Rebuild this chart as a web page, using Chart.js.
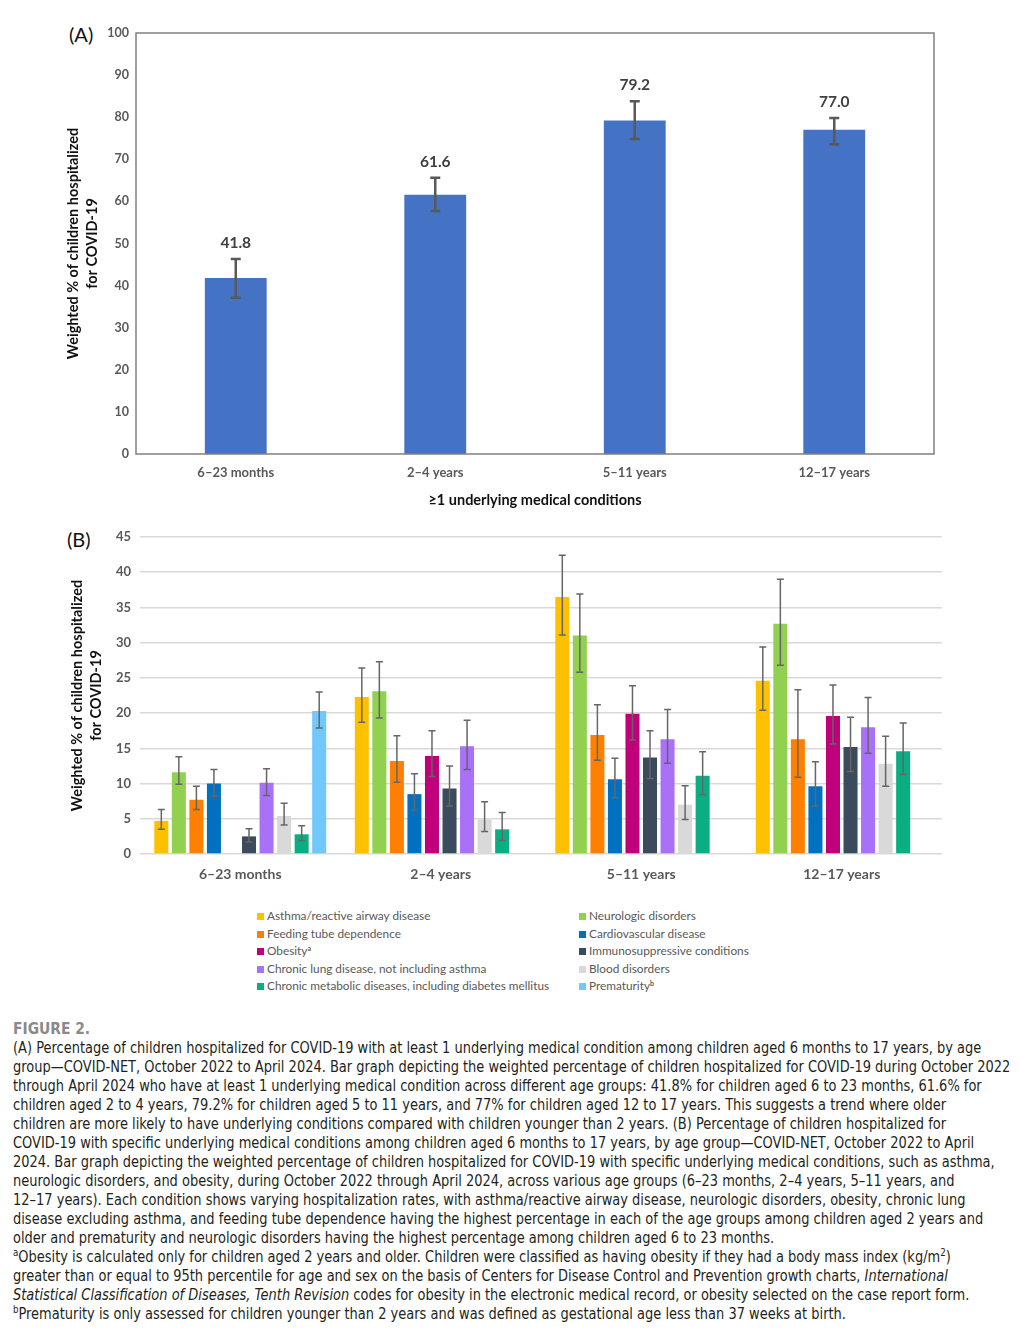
<!DOCTYPE html>
<html>
<head>
<meta charset="utf-8">
<script src="https://cdn.jsdelivr.net/npm/chart.js@4.4.1/dist/chart.umd.min.js"></script>
<style>
  body { margin: 0; background: #fff; width: 1021px; height: 1333px; position: relative; overflow: hidden; }
  .abs { position: absolute; }
  .panel-tag { font-family: Lato, sans-serif; font-size: 20px; color: #111; }
  #legend { left: 0; top: 909px; font-family: Lato, sans-serif; font-size: 11.8px; color: #595959; }
  .leg { position: absolute; white-space: nowrap; line-height: 14px; }
  .leg i { display: inline-block; width: 7px; height: 7px; margin-right: 3px; vertical-align: 0px; }
  .leg sup { font-size: 7px; font-weight: bold; line-height: 0; vertical-align: 4px; }
  #caption { left: 13px; top: 1019px; font-family: "Liberation Sans Narrow", "DejaVu Sans Condensed", sans-serif; font-stretch: condensed; color: #231f20; font-size: 15px; line-height: 19px; white-space: nowrap; transform: scaleX(0.963); transform-origin: 0 0; }
  #caption .fig { font-weight: bold; color: #8a8a8a; font-size: 16px; }
  #caption sup { font-size: 10px; line-height: 0; }
</style>
</head>
<body>
<div class="abs panel-tag" style="left:69px;top:22px;">(A)</div>
<div class="abs panel-tag" style="left:67px;top:527px;">(B)</div>
<canvas id="chartA" class="abs" style="left:0;top:0" width="1021" height="520"></canvas>
<canvas id="chartB" class="abs" style="left:0;top:520px" width="1021" height="380"></canvas>
<div id="legend" class="abs"></div>
<div id="caption" class="abs">
<span class="fig">FIGURE 2.</span><br>
(A) Percentage of children hospitalized for COVID-19 with at least 1 underlying medical condition among children aged 6 months to 17 years, by age<br>
group—COVID-NET, October 2022 to April 2024. Bar graph depicting the weighted percentage of children hospitalized for COVID-19 during October 2022<br>
through April 2024 who have at least 1 underlying medical condition across different age groups: 41.8% for children aged 6 to 23 months, 61.6% for<br>
children aged 2 to 4 years, 79.2% for children aged 5 to 11 years, and 77% for children aged 12 to 17 years. This suggests a trend where older<br>
children are more likely to have underlying conditions compared with children younger than 2 years. (B) Percentage of children hospitalized for<br>
COVID-19 with specific underlying medical conditions among children aged 6 months to 17 years, by age group—COVID-NET, October 2022 to April<br>
2024. Bar graph depicting the weighted percentage of children hospitalized for COVID-19 with specific underlying medical conditions, such as asthma,<br>
neurologic disorders, and obesity, during October 2022 through April 2024, across various age groups (6–23 months, 2–4 years, 5–11 years, and<br>
12–17 years). Each condition shows varying hospitalization rates, with asthma/reactive airway disease, neurologic disorders, obesity, chronic lung<br>
disease excluding asthma, and feeding tube dependence having the highest percentage in each of the age groups among children aged 2 years and<br>
older and prematurity and neurologic disorders having the highest percentage among children aged 6 to 23 months.<br>
<sup>a</sup>Obesity is calculated only for children aged 2 years and older. Children were classified as having obesity if they had a body mass index (kg/m<sup>2</sup>)<br>
greater than or equal to 95th percentile for age and sex on the basis of Centers for Disease Control and Prevention growth charts, <i>International</i><br>
<i>Statistical Classification of Diseases, Tenth Revision</i> codes for obesity in the electronic medical record, or obesity selected on the case report form.<br>
<sup>b</sup>Prematurity is only assessed for children younger than 2 years and was defined as gestational age less than 37 weeks at birth.
</div>
<script>
// age groups (both panels)
const ageGroups = ['6–23 months', '2–4 years', '5–11 years', '12–17 years'];

// panel A: >=1 underlying condition
const anyCondition = [41.8, 61.6, 79.2, 77.0];
const anyConditionCI = [[37.1, 46.3], [57.7, 65.6], [74.8, 83.8], [73.6, 79.8]];

// panel B: specific conditions, one array per condition
const conditionNames = [
  'Asthma/reactive airway disease', 'Neurologic disorders', 'Feeding tube dependence',
  'Cardiovascular disease', 'Obesity', 'Immunosuppressive conditions',
  'Chronic lung disease, not including asthma', 'Blood disorders',
  'Chronic metabolic diseases, including diabetes mellitus', 'Prematurity'
];
const conditionSup = ['', '', '', '', 'a', '', '', '', '', 'b'];
const conditionColors = ['#FFC000', '#92D050', '#FF8000', '#0070C0', '#C0007A',
  '#3B4A5C', '#A970F8', '#D9D9D9', '#0BAE83', '#70C8FC'];

const asthma = [4.7, 22.3, 36.5, 24.6];
const asthmaCI = [[3.5, 6.3], [18.7, 26.4], [31.1, 42.4], [20.4, 29.4]];
const neuro = [11.6, 23.1, 31.0, 32.7];
const neuroCI = [[9.9, 13.8], [19.3, 27.3], [25.8, 36.9], [26.8, 39.0]];
const feedingTube = [7.7, 13.2, 16.9, 16.3];
const feedingTubeCI = [[6.3, 9.6], [10.2, 16.8], [13.3, 21.2], [10.9, 23.3]];
const cardio = [10.0, 8.5, 10.6, 9.6];
const cardioCI = [[8.2, 12.0], [6.2, 11.4], [8.0, 13.6], [6.8, 13.1]];
const obesity = [null, 13.9, 19.9, 19.6];
const obesityCI = [null, [11.0, 17.5], [16.2, 23.9], [15.6, 24.0]];
const immuno = [2.5, 9.3, 13.7, 15.2];
const immunoCI = [[1.7, 3.6], [6.8, 12.5], [10.7, 17.5], [11.7, 19.4]];
const chronicLung = [10.1, 15.3, 16.3, 18.0];
const chronicLungCI = [[8.3, 12.1], [12.0, 19.0], [12.9, 20.5], [14.3, 22.2]];
const blood = [5.4, 4.9, 7.0, 12.8];
const bloodCI = [[4.1, 7.2], [3.2, 7.4], [4.9, 9.7], [9.6, 16.7]];
const metabolic = [2.8, 3.5, 11.1, 14.6];
const metabolicCI = [[1.9, 4.0], [1.9, 5.9], [8.4, 14.5], [11.3, 18.6]];
const prematurity = [20.3, 0, null, 0];
const prematurityCI = [[17.9, 23.0], null, null, null];

const seriesB = [asthma, neuro, feedingTube, cardio, obesity, immuno, chronicLung, blood, metabolic, prematurity];
const seriesBCI = [asthmaCI, neuroCI, feedingTubeCI, cardioCI, obesityCI, immunoCI, chronicLungCI, bloodCI, metabolicCI, prematurityCI];

const yTicksA = { min: 0, max: 100, step: 10 };
const yTicksB = { min: 0, max: 45, step: 5 };

const errorBars = {
  id: 'errorBars',
  afterDatasetsDraw(chart, args, opts) {
    const ctx = chart.ctx, y = chart.scales.y;
    ctx.save();
    ctx.strokeStyle = opts.color;
    ctx.lineWidth = opts.width;
    chart.data.datasets.forEach((ds, i) => {
      if (!ds.ci) return;
      chart.getDatasetMeta(i).data.forEach((bar, j) => {
        const ci = ds.ci[j];
        if (!ci) return;
        const lo = y.getPixelForValue(ci[0]), hi = y.getPixelForValue(ci[1]);
        ctx.beginPath();
        ctx.moveTo(bar.x, lo); ctx.lineTo(bar.x, hi);
        ctx.moveTo(bar.x - opts.cap, lo); ctx.lineTo(bar.x + opts.cap, lo);
        ctx.moveTo(bar.x - opts.cap, hi); ctx.lineTo(bar.x + opts.cap, hi);
        ctx.stroke();
        if (opts.labels) {
          ctx.fillStyle = '#404040';
          ctx.font = 'bold 15.5px Lato';
          ctx.textAlign = 'center';
          ctx.textBaseline = 'middle';
          ctx.fillText(ds.data[j].toFixed(1), bar.x, hi - 16);
        }
      });
    });
    ctx.restore();
  }
};

const frame = {
  id: 'frame',
  afterDraw(chart, args, opts) {
    if (!opts.show) return;
    const a = chart.chartArea, ctx = chart.ctx;
    ctx.save();
    ctx.strokeStyle = '#808080';
    ctx.lineWidth = 1.5;
    ctx.strokeRect(a.left, a.top, a.right - a.left, a.bottom - a.top);
    ctx.restore();
  }
};

const yTitle = ['Weighted % of children hospitalized', 'for COVID-19'];

new Chart(document.getElementById('chartA'), {
  type: 'bar',
  data: {
    labels: ageGroups,
    datasets: [{
      data: anyCondition,
      ci: anyConditionCI,
      backgroundColor: '#4472C4',
      barPercentage: 0.31,
      categoryPercentage: 1
    }]
  },
  plugins: [errorBars, frame],
  options: {
    responsive: false,
    animation: false,
    layout: { padding: { top: 33, right: 87, left: 0, bottom: 0 } },
    plugins: {
      legend: { display: false },
      tooltip: { enabled: false },
      errorBars: { color: '#595959', width: 2.5, cap: 5, labels: true },
      frame: { show: true }
    },
    scales: {
      x: {
        grid: { display: false, drawTicks: false },
        border: { display: false },
        ticks: { color: '#595959', font: { family: 'Lato', weight: 'bold', size: 13 }, padding: 11 },
        title: { display: true, text: '≥1 underlying medical conditions', color: '#111',
          font: { family: 'Lato', weight: 'bold', size: 14.5 }, padding: { top: 0, bottom: 11 } },
        afterFit(s) { s.height = 66; }
      },
      y: {
        min: yTicksA.min, max: yTicksA.max,
        grid: { display: false, drawTicks: false },
        border: { display: false },
        ticks: { stepSize: yTicksA.step, color: '#595959', font: { family: 'Lato', weight: 'bold', size: 12.5 }, padding: 7 },
        title: { display: true, text: yTitle, color: '#111',
          font: { family: 'Lato', weight: 'bold', size: 14.5, lineHeight: 1.3 }, padding: { top: 64, bottom: 0 } },
        afterFit(s) { s.width = 136; }
      }
    }
  }
});

new Chart(document.getElementById('chartB'), {
  type: 'bar',
  data: {
    labels: ageGroups,
    datasets: seriesB.map((d, i) => ({
      label: conditionNames[i],
      data: d,
      ci: seriesBCI[i],
      backgroundColor: conditionColors[i],
      barPercentage: 0.8,
      categoryPercentage: 0.875
    }))
  },
  plugins: [errorBars],
  options: {
    responsive: false,
    animation: false,
    layout: { padding: { top: 17, right: 79, left: 0, bottom: 0 } },
    plugins: {
      legend: { display: false },
      tooltip: { enabled: false },
      errorBars: { color: '#666666', width: 1.5, cap: 3.5, labels: false }
    },
    scales: {
      x: {
        grid: { display: false, drawTicks: false },
        border: { display: false },
        ticks: { color: '#595959', font: { family: 'Lato', weight: 'bold', size: 14 }, padding: 12 },
        afterFit(s) { s.height = 46; }
      },
      y: {
        min: yTicksB.min, max: yTicksB.max,
        grid: { color: '#d9d9d9', lineWidth: 1.5, drawTicks: false },
        border: { display: false },
        ticks: { stepSize: yTicksB.step, color: '#595959', font: { family: 'Lato', weight: 'bold', size: 13 }, padding: 9 },
        title: { display: true, text: yTitle, color: '#111',
          font: { family: 'Lato', weight: 'bold', size: 14.5, lineHeight: 1.3 }, padding: { top: 68, bottom: 0 } },
        afterFit(s) { s.width = 140; }
      }
    }
  }
});

// two-column legend built from the condition arrays
const legend = document.getElementById('legend');
conditionNames.forEach((name, i) => {
  const el = document.createElement('div');
  el.className = 'leg';
  el.style.left = (i % 2 === 0 ? 257 : 579) + 'px';
  el.style.top = (Math.floor(i / 2) * 17.6) + 'px';
  el.innerHTML = '<i style="background:' + conditionColors[i] + '"></i>' + name +
    (conditionSup[i] ? '<sup>' + conditionSup[i] + '</sup>' : '');
  legend.appendChild(el);
});
</script>
</body>
</html>
